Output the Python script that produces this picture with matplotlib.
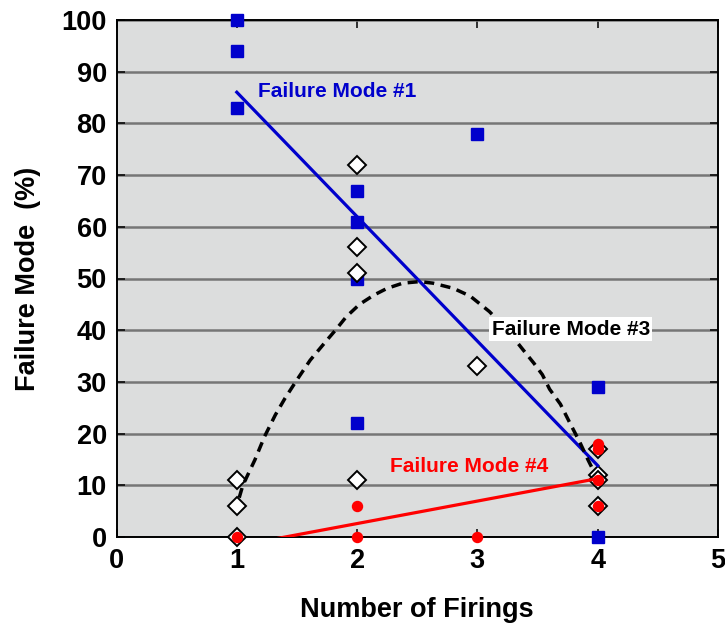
import matplotlib
matplotlib.use("Agg")
import matplotlib.pyplot as plt
import numpy as np

plt.rcParams['font.family'] = ['Liberation Sans', 'DejaVu Sans']
plt.rcParams['font.weight'] = 'bold'

# ---- data ----
mode1_x = [1, 1, 1, 2, 2, 2, 2, 3, 4, 4]
mode1_y = [100, 94, 83, 67, 61, 50, 22, 78, 29, 0]

mode3_x = [1, 1, 1, 2, 2, 2, 2, 3, 4, 4, 4, 4]
mode3_y = [11, 6, 0, 72, 56, 51, 11, 33, 17, 12, 11, 6]

mode4_x = [1, 2, 2, 3, 4, 4, 4, 4]
mode4_y = [0, 6, 0, 0, 18, 17, 11, 6]

# linear fits (slope, intercept) and their x-range
mode1_fit = (-24.07, 110.1)
mode4_fit = (4.35, -6.1)
fit_range = (1, 4)

# smoothed curve for mode #3
curve3_x = [1.02, 1.05, 1.15, 1.23, 1.32, 1.40, 1.50, 1.61, 1.75, 1.82, 1.91, 2.02, 2.14,
            2.25, 2.38, 2.52, 2.63, 2.80, 2.94, 3.10, 3.25, 3.38, 3.47, 3.54, 3.60,
            3.69, 3.77, 3.85, 3.92, 3.95]
curve3_y = [7.6, 10.0, 14.9, 19.4, 23.6, 26.8, 30.4, 34.2, 38.1, 40.0, 42.6, 45.0, 46.8,
            48.1, 49.1, 49.4, 49.1, 48.1, 46.6, 43.6, 40.0, 36.2, 33.6, 31.4, 28.6,
            25.7, 22.0, 18.4, 14.9, 13.5]

xticks = [0, 1, 2, 3, 4, 5]
yticks = [0, 10, 20, 30, 40, 50, 60, 70, 80, 90, 100]

BLUE = '#0000CC'
RED = '#FF0000'

fig = plt.figure(figsize=(7.25, 6.26), dpi=100)
ax = fig.add_axes([116.5 / 725, 89 / 626, 601.5 / 725, 517 / 626])
ax.set_facecolor('#DCDDDD')

ax.set_xlim(0, 5)
ax.set_ylim(0, 100)
ax.set_xticks(xticks)
ax.set_yticks(yticks)

ax.set_axisbelow(True)
ax.yaxis.grid(True, color='#767676', linewidth=1.8)
ax.xaxis.grid(False)

# markers
ax.plot(mode1_x, mode1_y, linestyle='none', marker='s', markersize=8.4,
        color=BLUE, markeredgecolor=BLUE, clip_on=False, zorder=3)
ax.plot(mode3_x, mode3_y, linestyle='none', marker='D', markersize=9.4,
        markerfacecolor='white', markeredgecolor='black', markeredgewidth=1.4,
        clip_on=False, zorder=4)
ax.plot(mode4_x, mode4_y, linestyle='none', marker='o', markersize=7.2,
        color=RED, markeredgecolor=RED, clip_on=False, zorder=5)

# fit lines
fx = np.linspace(fit_range[0], fit_range[1], 50)
ax.plot(fx, mode1_fit[0] * fx + mode1_fit[1], color=BLUE, lw=2.3, zorder=6)
ax.plot(fx, mode4_fit[0] * fx + mode4_fit[1], color=RED, lw=2.3, zorder=6)
ax.plot(curve3_x, curve3_y, color='black', lw=2.5, linestyle=(0, (2.9, 1.9)),
        zorder=6)

# annotations
ax.text(1.176, 86.1, 'Failure Mode #1', color=BLUE, fontsize=15,
        fontweight='bold', va='center', ha='left', zorder=7)
ax.text(3.118, 40.2, 'Failure Mode #3', color='black', fontsize=15,
        fontweight='bold', va='center', ha='left', zorder=7,
        bbox=dict(boxstyle='square,pad=0.12', facecolor='white',
                  edgecolor='none'))
ax.text(2.273, 13.7, 'Failure Mode #4', color=RED, fontsize=15,
        fontweight='bold', va='center', ha='left', zorder=7)

# axes styling
for s in ax.spines.values():
    s.set_color('black')
    s.set_linewidth(1.4)
ax.tick_params(axis='both', which='both', direction='in', top=True,
               right=True, length=6, width=1.1, labelsize=19.5, pad=7)
for lab in ax.get_xticklabels() + ax.get_yticklabels():
    lab.set_fontweight('bold')
ax.tick_params(axis='x', pad=8)

ax.set_xlabel('Number of Firings', fontsize=19.5, fontweight='bold')
ax.set_ylabel('Failure Mode  (%)', fontsize=19.5, fontweight='bold')
ax.xaxis.set_label_coords(0.5, -0.141)
ax.xaxis.label.set_va('center')
ax.yaxis.set_label_coords(-0.147, 0.5)
ax.yaxis.label.set_va('center')

fig.savefig('out.png', dpi=100)
